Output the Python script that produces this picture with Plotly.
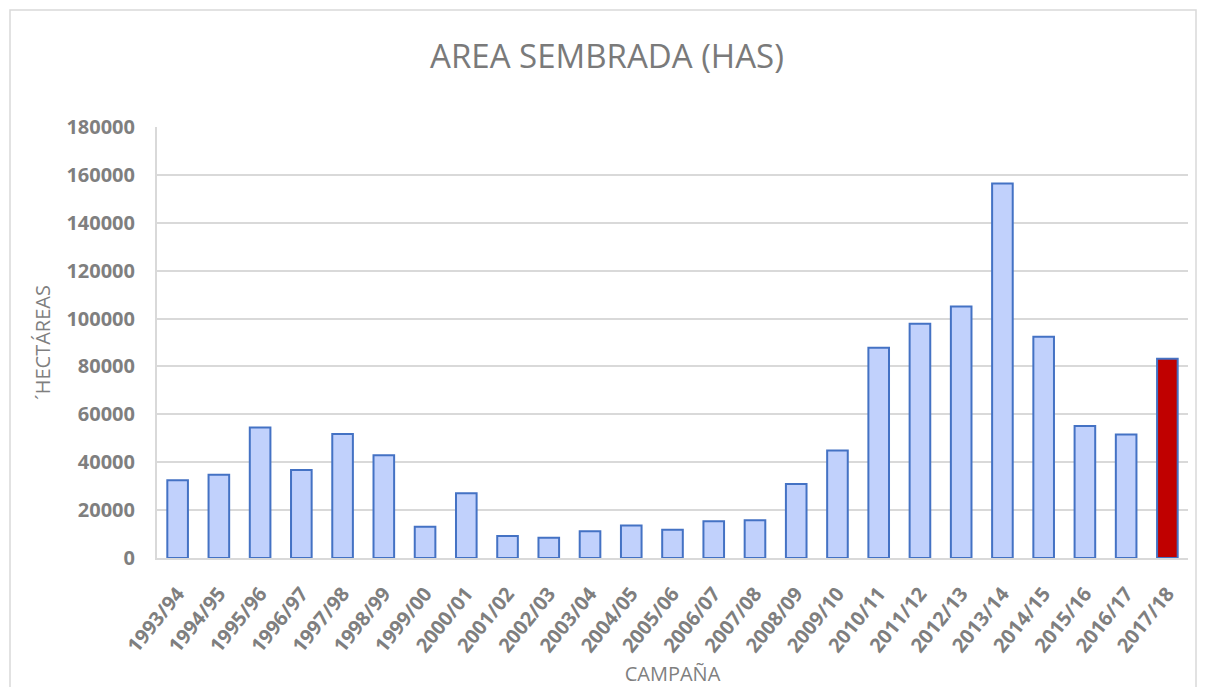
import plotly.graph_objects as go

# Campañas y área sembrada (hectáreas)
campanas = ["1993/94", "1994/95", "1995/96", "1996/97", "1997/98", "1998/99",
            "1999/00", "2000/01", "2001/02", "2002/03", "2003/04", "2004/05",
            "2005/06", "2006/07", "2007/08", "2008/09", "2009/10", "2010/11",
            "2011/12", "2012/13", "2013/14", "2014/15", "2015/16", "2016/17",
            "2017/18"]
hectareas = [32500, 34800, 54500, 36700, 51800, 42900,
             13000, 27000, 9200, 8500, 11200, 13600,
             11800, 15300, 15800, 30900, 44900, 87800,
             97800, 105000, 156400, 92400, 55100, 51600,
             83200]
y_ticks = [0, 20000, 40000, 60000, 80000, 100000, 120000, 140000, 160000, 180000]

# la última campaña se resalta en rojo
colores = ["#c1d1fc"] * (len(campanas) - 1) + ["#c00000"]

gray = "#7f7f7f"
font_family = "Open Sans"

fig = go.Figure(go.Bar(
    x=campanas,
    y=hectareas,
    marker=dict(color=colores, line=dict(color="#4472c4", width=2)),
))

# la página tiene 8px de margen, por eso el lienzo es algo menor
fig.update_layout(
    width=1198, height=679,
    paper_bgcolor="white", plot_bgcolor="white",
    margin=dict(l=149, r=18, t=119, b=129),
    bargap=0.5,
    showlegend=False,
    font=dict(family=font_family, color=gray),
    title=dict(text="AREA SEMBRADA (HAS)", x=0.5, xanchor="center",
               y=0.928, yanchor="middle",
               font=dict(size=33, color="#7a7a7a", family=font_family)),
)

fig.update_xaxes(
    type="category",
    tickangle=-51,
    tickfont=dict(size=20, color=gray, family=font_family, weight="bold"),
    showline=True, linecolor="#d9d9d9", linewidth=2,
    showgrid=False,
    ticks="", ticklabelstandoff=14,
    automargin=False,
    title=dict(text="CAMPAÑA", font=dict(size=20, color=gray), standoff=16),
)

fig.update_yaxes(
    range=[0, 180000],
    tickvals=y_ticks,
    ticktext=[str(v) for v in y_ticks],
    tickfont=dict(size=20, color=gray, family=font_family, weight="bold"),
    showgrid=True, gridcolor="#d9d9d9", gridwidth=2,
    showline=True, linecolor="#d9d9d9", linewidth=2,
    zeroline=False,
    ticks="", ticklabelstandoff=16,
    automargin=False,
    title=dict(text="´HECTÁREAS", font=dict(size=20, color=gray), standoff=10),
)

# borde exterior del área del gráfico
fig.add_shape(type="rect", xref="paper", yref="paper",
              x0=(10 - 157) / 1031, x1=(1196 - 157) / 1031,
              y0=-0.4, y1=(558 - 10) / 431,
              line=dict(color="#d9d9d9", width=1.5), layer="below")

fig.write_html("out.html")
